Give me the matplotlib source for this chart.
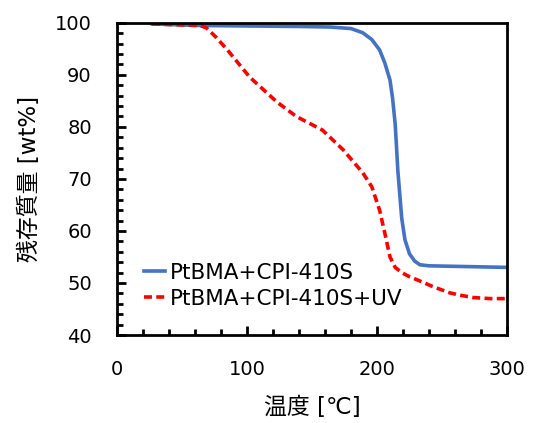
import matplotlib.pyplot as plt
import numpy as np

plt.rcParams['font.family'] = ['DejaVu Sans', 'Noto Sans CJK JP']

# TGA curves
temp_plain = [27, 60, 100, 140, 164, 180, 189, 196, 202, 206, 210, 212, 214, 215, 216, 217.7, 219, 221.5, 225, 229, 233, 240, 260, 280, 300]
mass_plain = [99.8, 99.5, 99.4, 99.3, 99.2, 98.9, 98.1, 96.8, 94.8, 92.3, 89.0, 85.5, 80.5, 76.2, 71.7, 66.5, 62.5, 58.3, 55.6, 54.2, 53.5, 53.3, 53.2, 53.1, 53.0]

temp_uv = [27, 50, 64, 69, 76, 85, 102, 123, 138, 158, 174, 189, 196, 202, 206, 210, 214, 219, 225, 231, 243, 256, 265, 274, 287, 300]
mass_uv = [99.8, 99.6, 99.5, 99.0, 97.3, 94.8, 89.6, 84.8, 82.0, 79.4, 75.6, 71.2, 68.5, 64.0, 59.6, 55.0, 53.0, 52.0, 51.2, 50.6, 49.3, 48.1, 47.6, 47.2, 47.0, 47.0]

fig = plt.figure(figsize=(5.36, 4.23), dpi=100)
ax = fig.add_axes([0.218, 0.208, 0.728, 0.738])

ax.plot(temp_plain, mass_plain, color='#4472C4', lw=2.6, label='PtBMA+CPI-410S')
ax.plot(temp_uv, mass_uv, color='#FF0000', lw=2.6, ls=(0, (2.2, 1.2)), label='PtBMA+CPI-410S+UV')

ax.set_xlim(0, 300)
ax.set_ylim(40, 100)
ax.set_xticks([0, 100, 200, 300])
ax.set_xticks(np.arange(0, 301, 20), minor=True)
ax.set_yticks(np.arange(40, 101, 10))
ax.set_yticks(np.arange(40, 101, 2), minor=True)
ax.tick_params(which='both', direction='in', width=2, labelsize=14)
ax.tick_params(which='major', length=6.5)
ax.tick_params(which='minor', length=4.3)
ax.tick_params(axis='y', which='major', pad=18)
ax.tick_params(axis='x', which='major', pad=18)
for s in ax.spines.values():
    s.set_linewidth(2)

ax.set_xlabel('温度 [℃]', fontsize=16.5, labelpad=12)
ax.set_ylabel('残存質量 [wt%]', fontsize=16.5, labelpad=10)

ax.legend(loc='lower left', bbox_to_anchor=(0.03, 0.035), frameon=False, fontsize=15.5,
          handlelength=1.0, handletextpad=0.2, labelspacing=0.3, borderaxespad=0.3)

fig.savefig('out.png', dpi=100)
